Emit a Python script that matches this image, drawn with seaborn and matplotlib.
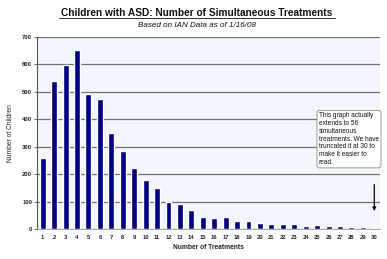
import matplotlib
matplotlib.use("Agg")
import matplotlib.pyplot as plt
import seaborn as sns
import pandas as pd

treatments = [str(i) for i in range(1, 31)]
children = [260, 538, 597, 654, 494, 474, 350, 284, 223, 180,
            148, 99, 91, 71, 44, 40, 43, 29, 29, 22,
            20, 17, 18, 12, 15, 12, 10, 6, 6, 4]
y_ticks = [0, 100, 200, 300, 400, 500, 600, 700]

title = "Children with ASD: Number of Simultaneous Treatments"
subtitle = "Based on IAN Data as of 1/16/08"
note = ("This graph actually\nextends to 56\nsimultaneous\ntreatments. We have\n"
        "truncated it at 30 to\nmake it easier to\nread.")

sns.set_theme(style="white")
plt.rcParams['font.family'] = ['Liberation Sans', 'DejaVu Sans']

df = pd.DataFrame({"Number of Treatments": treatments, "Number of Children": children})

fig = plt.figure(figsize=(3.87, 2.59), dpi=100)
ax = fig.add_axes([37/387, 1 - 229/259, (380 - 37)/387, (229 - 37)/259])
ax.set_facecolor("#F3F7FD")

sns.barplot(data=df, x="Number of Treatments", y="Number of Children",
            color="#000080", width=0.52, ax=ax, zorder=3, saturation=1)

ax.set_ylim(0, 700)
ax.set_yticks(y_ticks)
ax.set_xlim(-0.5, 29.5)
ax.yaxis.grid(True, color="#707070", linewidth=0.9, zorder=0)
ax.set_axisbelow(True)
for s in ["top", "right"]:
    ax.spines[s].set_visible(False)
ax.spines["left"].set_color("#555555")
ax.spines["left"].set_linewidth(0.8)
ax.spines["bottom"].set_color("#999999")
ax.spines["bottom"].set_linewidth(0.6)
ax.tick_params(axis="y", labelsize=4.2, length=2, width=0.6, color="#555555", pad=1.5, left=True)
ax.tick_params(axis="x", labelsize=4.2, length=0, pad=4)
for lbl in ax.get_xticklabels() + ax.get_yticklabels():
    lbl.set_fontweight("bold")
    lbl.set_color("#222222")
ax.set_xlabel("Number of Treatments", fontsize=4.8, fontweight="bold", labelpad=3)
ax.set_ylabel("Number of Children", fontsize=4.8, labelpad=6)

fig.text(0.508, 1 - 13/259, title, ha="center", va="center", fontsize=7.3,
         fontweight="bold", color="#111111")
# underline
fig.add_artist(plt.Line2D([0.152, 0.865], [1 - 18/259, 1 - 18/259],
                          color="#111111", linewidth=0.6))
fig.text(0.508, 1 - 25.5/259, subtitle, ha="center", va="center", fontsize=5.8,
         fontstyle="italic", color="#111111")

ax.text(0.822, 425, note, transform=ax.get_yaxis_transform(), ha="left", va="top",
        fontsize=4.7, color="#111111", linespacing=1.15, zorder=5,
        bbox=dict(boxstyle="round,pad=0.3,rounding_size=0.4", facecolor="white",
                  edgecolor="#888888", linewidth=0.6))

ax.annotate("", xy=(29, 55), xytext=(29, 172),
            arrowprops=dict(arrowstyle="-|>", color="black", lw=0.9,
                            mutation_scale=5), zorder=5)

fig.savefig("out.png", dpi=100)
